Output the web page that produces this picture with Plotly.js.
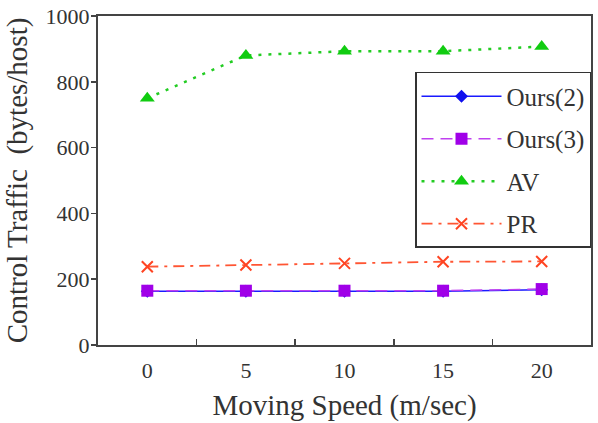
<!DOCTYPE html>
<html>
<head>
<meta charset="utf-8">
<script src="https://cdn.plot.ly/plotly-3.0.1.min.js"></script>
<style>
  html, body { margin: 0; padding: 0; background: #fff; }
  #chart { width: 598px; height: 423px; }
</style>
</head>
<body>
<div id="chart"></div>
<script>
// Moving speed (m/sec)
const speeds = [0, 5, 10, 15, 20];

// Control traffic (bytes/host) per scheme
const ours2 = [163, 163, 163, 163, 168];
const ours3 = [165, 165, 165, 165, 170];
const av    = [750, 880, 893, 893, 907];
const pr    = [238, 243, 248, 253, 254];

const xTickVals = [0, 5, 10, 15, 20];
const xTickText = ['0', '5', '10', '15', '20'];
const xMinorTicks = [2.5, 7.5, 12.5, 17.5];
const yTickVals = [0, 200, 400, 600, 800, 1000];

const FONT = 'Liberation Serif';
const INK = '#333333';

const traces = [
  {
    name: 'Ours(2)', x: speeds, y: ours2, mode: 'lines+markers',
    line: { color: '#1a1aff', width: 1.5, dash: 'solid' },
    marker: { symbol: 'diamond', size: 10, color: '#1010ee' },
    legendgroup: 'a'
  },
  {
    name: 'Ours(3)', x: speeds, y: ours3, mode: 'lines+markers',
    line: { color: '#c040f0', width: 1.5, dash: '12px,7px' },
    marker: { symbol: 'square', size: 12, color: '#a000e8' },
    legendgroup: 'b'
  },
  {
    name: 'AV', x: speeds, y: av, mode: 'lines+markers',
    line: { color: '#22cc22', width: 2.5, dash: '3px,7px' },
    marker: { symbol: 'triangle-up', size: 13, color: '#11cc11' },
    legendgroup: 'c'
  },
  {
    name: 'PR', x: speeds, y: pr, mode: 'lines+markers',
    line: { color: '#ff5533', width: 1.8, dash: '11px,6px,3px,6px' },
    marker: { symbol: 'x-thin-open', size: 11, color: '#ff4422', line: { width: 2, color: '#ff4422' } },
    legendgroup: 'd'
  }
];

const layout = {
  width: 598,
  height: 423,
  margin: { l: 98, r: 7, t: 16, b: 78 },
  paper_bgcolor: '#ffffff',
  plot_bgcolor: '#ffffff',
  font: { family: FONT, color: INK, size: 22 },
  showlegend: true,
  legend: {
    x: 1, xanchor: 'right', y: 0.83, yanchor: 'top',
    bordercolor: INK, borderwidth: 1.5, bgcolor: '#ffffff',
    font: { family: FONT, size: 25, color: INK },
    itemwidth: 80,
    traceorder: 'grouped',
    tracegroupgap: 7
  },
  xaxis: {
    range: [-2.5, 22.5],
    tickmode: 'array', tickvals: xTickVals, ticktext: xTickText,
    ticks: '', showgrid: false, zeroline: false,
    showline: true, linecolor: '#444444', linewidth: 2, mirror: true,
    tickfont: { family: FONT, size: 22, color: INK },
    ticklabelstandoff: 5,
    minor: { tickmode: 'array', tickvals: xMinorTicks, ticks: 'inside', ticklen: 6, tickcolor: '#444444', tickwidth: 1.5, showgrid: false },
    title: { text: 'Moving Speed (m/sec)', font: { family: FONT, size: 29, color: INK }, standoff: 12 }
  },
  yaxis: {
    range: [0, 1000],
    tickmode: 'array', tickvals: yTickVals,
    ticks: 'outside', ticklen: 5, tickcolor: '#444444', tickwidth: 1.5,
    showgrid: false, zeroline: false,
    showline: true, linecolor: '#444444', linewidth: 2, mirror: true,
    tickfont: { family: FONT, size: 22, color: INK },
    ticklabelstandoff: -3,
    title: { text: 'Control Traffic  (bytes/host)', font: { family: FONT, size: 29, color: INK }, standoff: 9 }
  }
};

Plotly.newPlot('chart', traces, layout, { displayModeBar: false, staticPlot: true });
</script>
</body>
</html>
